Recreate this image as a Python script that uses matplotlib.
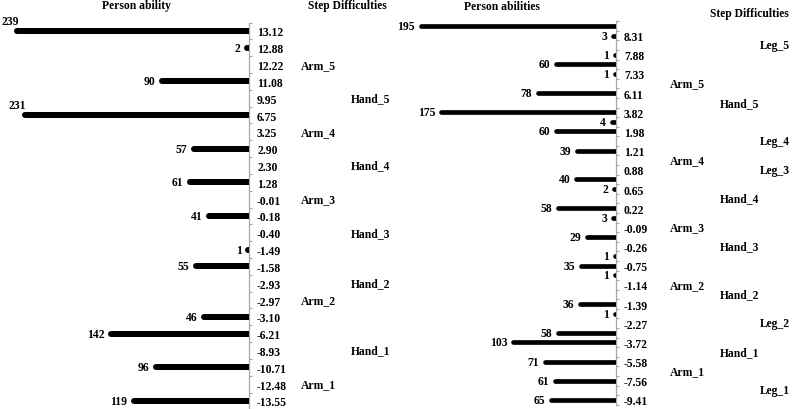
import matplotlib
matplotlib.use('Agg')
import matplotlib.pyplot as plt
from matplotlib.transforms import blended_transform_factory

# ---------------- data ----------------
left_logits = ['13.12', '12.88', '12.22', '11.08', '9.95', '6.75', '3.25', '2.90', '2.30',
               '1.28', '-0.01', '-0.18', '-0.40', '-1.49', '-1.58', '-2.93', '-2.97',
               '-3.10', '-6.21', '-8.93', '-10.71', '-12.48', '-13.55']
left_persons = [239, 2, None, 90, None, 231, None, 57, None, 61, None, 41, None, 1, 55,
                None, None, 46, 142, None, 96, None, 119]
left_steps = [None, None, 'Arm_5', None, 'Hand_5', None, 'Arm_4', None, 'Hand_4', None,
              'Arm_3', None, 'Hand_3', None, None, 'Hand_2', 'Arm_2', None, None,
              'Hand_1', None, 'Arm_1', None]

right_logits = ['', '8.31', '', '7.88', '', '7.33', '', '6.11', '', '3.82', '', '1.98',
                '', '1.21', '', '0.88', '', '0.65', '', '0.22', '', '-0.09', '', '-0.26',
                '', '-0.75', '', '-1.14', '', '-1.39', '', '-2.27', '', '-3.72', '',
                '-5.58', '', '-7.56', '', '-9.41']
right_persons = [195, 3, None, 1, 60, 1, None, 78, None, 175, 4, 60, None, 39, None, None,
                 40, 2, None, 58, 3, None, 29, None, 1, 35, 1, None, None, 36, 1, None,
                 58, 103, None, 71, None, 61, None, 65]
right_steps = [None, None, 'Leg_5', None, None, None, 'Arm_5', None, 'Hand_5', None, None,
               None, 'Leg_4', None, 'Arm_4', 'Leg_3', None, None, 'Hand_4', None, None,
               'Arm_3', None, 'Hand_3', None, None, None, 'Arm_2', 'Hand_2', None, None,
               'Leg_2', None, None, 'Hand_1', None, 'Arm_1', None, 'Leg_1', None]

# ---------------- style ----------------
W, H = 800, 410
plt.rcParams['font.family'] = ['Liberation Serif', 'DejaVu Serif']
plt.rcParams['font.weight'] = 'bold'
FS = 8.4
GRAY = '#a8a8a8'

fig = plt.figure(figsize=(W / 100, H / 100), dpi=100)


def panel(axis_px, left_px, ppu, first_row_px, last_row_px, logits, persons, steps,
          step_cols, bar_px, pad_px):
    n = len(logits)
    s = (last_row_px - first_row_px) / (n - 1)
    top = first_row_px - s / 2
    bot = last_row_px + s / 2
    ax = fig.add_axes([left_px / W, 1 - bot / H, (axis_px - left_px) / W, (bot - top) / H])
    ax.set_ylim(n - 0.5, -0.5)
    ax.set_xlim((axis_px - left_px) / ppu, 0)
    idx = [i for i, v in enumerate(persons) if v is not None]
    vals = [persons[i] for i in idx]
    lc = ax.hlines(idx, 0, vals, colors='black', linewidth=bar_px * 0.72, zorder=3)
    lc.set_capstyle('round')
    cap = bar_px / 2
    for i, v in zip(idx, vals):
        end_px = axis_px - v * ppu - cap
        if end_px < 24:
            ax.annotate(str(v), (v, i), xytext=(-(cap + 13), 10), textcoords='offset pixels',
                        ha='left', va='center', fontsize=FS, annotation_clip=False)
        else:
            ax.annotate(str(v), (v, i), xytext=(-(cap + 3.5), 0), textcoords='offset pixels',
                        ha='right', va='center', fontsize=FS, annotation_clip=False)
    ax.yaxis.tick_right()
    ax.set_yticks(range(n))
    ax.set_yticklabels(logits, fontsize=FS, fontweight='bold')
    ax.set_yticks([r - 0.5 for r in range(n + 1)], minor=True)
    ax.tick_params(axis='y', which='major', length=0, pad=pad_px * 0.72)
    ax.tick_params(axis='y', which='minor', length=2.5, width=0.8, color=GRAY,
                   direction='out')
    ax.xaxis.set_visible(False)
    for sp in ('left', 'top', 'bottom'):
        ax.spines[sp].set_visible(False)
    ax.spines['right'].set_color(GRAY)
    ax.spines['right'].set_linewidth(0.9)
    ax.patch.set_visible(False)
    tr = blended_transform_factory(fig.transFigure, ax.transData)
    for i, lab in enumerate(steps):
        if lab:
            x_px = step_cols[lab.split('_')[0]]
            fig.text(x_px / W, i, lab, transform=tr, ha='left', va='center',
                     fontsize=FS, fontweight='bold')
    return ax


panel(249, 0, 0.97, 32, 402, left_logits, left_persons, left_steps,
      {'Arm': 301, 'Hand': 351}, 6, 8)
panel(616, 390, 1.0, 27, 401, right_logits, right_persons, right_steps,
      {'Arm': 670, 'Hand': 720, 'Leg': 760}, 4.7, 8)

fig.text(137 / W, 1 - 6 / H, 'Person ability', ha='center', va='center', fontsize=FS)
fig.text(347 / W, 1 - 6 / H, 'Step Difficulties', ha='center', va='center', fontsize=FS)
fig.text(502 / W, 1 - 7 / H, 'Person abilities', ha='center', va='center', fontsize=FS)
fig.text(749 / W, 1 - 14 / H, 'Step Difficulties', ha='center', va='center', fontsize=FS)

fig.savefig('out.png', dpi=100, facecolor='white')
